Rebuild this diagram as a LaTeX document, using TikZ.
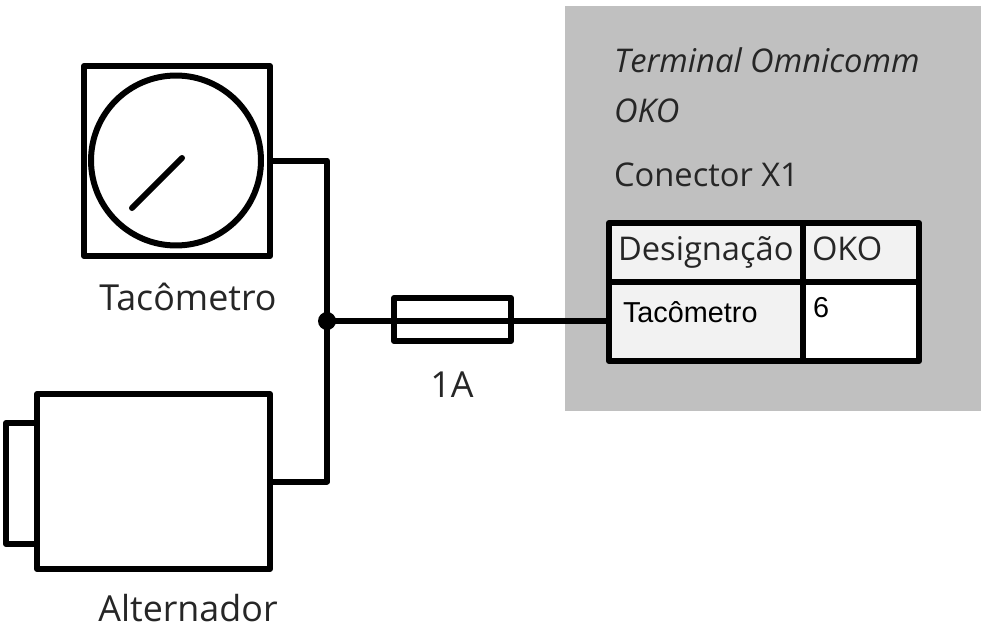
\documentclass[tikz,border=0pt]{standalone}
\usepackage{fontspec}
\setmainfont{Open Sans}
\newfontfamily\arialfont{Liberation Sans}
\usetikzlibrary{positioning}
\definecolor{panelgray}{HTML}{C0C0C0}
\definecolor{cellgray}{HTML}{F2F2F2}
\tikzset{
box/.style={draw=black, line width=0.12cm, line join=round, inner sep=0pt, outer sep=0pt},
wire/.style={black, line width=0.12cm, line join=round},
label/.style={inner sep=0pt, outer sep=0pt, font=\fontsize{20.4}{24}\selectfont, text=black!85},
panellabel/.style={label, anchor=base west, font=\fontsize{18.6}{22}\selectfont},
arial/.style={anchor=base west, inner sep=0pt, outer sep=0pt, text=black, font=\arialfont\fontsize{16.4}{20}\selectfont},
}

\begin{document}
\begin{tikzpicture}[x=0.02cm,y=-0.02cm]
\useasboundingbox (0,0) rectangle (987,632);

%panel
\fill[panelgray] (565,6) rectangle (981,411);

%table
\node[box, fill=cellgray, minimum width=3.88cm, minimum height=1.18cm] (desig) at (706,252.5) {};
\node[box, fill=cellgray, minimum width=2.32cm, minimum height=1.18cm] (oko) at (861,252.5) {};
\node[box, fill=cellgray, minimum width=3.88cm, minimum height=1.58cm] (tacho) at (706,321.5) {};
\node[box, fill=white, minimum width=2.32cm, minimum height=1.58cm] (six) at (861,321.5) {};

%tachometer
\node[box, fill=white, minimum width=3.72cm, minimum height=3.8cm] (tac) at (177,161) {};
\node[box, circle, fill=white, minimum size=3.4cm] (dial) at (176,160.5) {};
\coordinate (needleA) at (132,208);
\coordinate (needleB) at (182,158);
\draw[wire, line cap=round] (needleA)--(needleB);

%alternator
\node[box, fill=white, minimum width=0.62cm, minimum height=2.42cm] (shaft) at (21.5,483.5) {};
\node[box, fill=white, minimum width=4.66cm, minimum height=3.5cm] (alt) at (153.5,481.5) {};

%fuse and wires
\coordinate (junction) at (327,321);
\node[box, fill=none, minimum width=2.34cm, minimum height=0.86cm] (fuse) at (452.5,319.5) {};
\draw[wire] (tac.east|-dial.east)--(junction|-dial.east)--(junction);
\draw[wire] (alt.east)--(junction|-alt.east)--(junction);
\draw[wire] (junction)--(tacho.west|-junction);
\fill[black] (junction) circle (0.18cm);

%labels
\node[label, anchor=base] (lbtac) at (188,310) {Tacômetro};
\node[label, anchor=base] (lbalt) at (188,621) {Alternador};
\node[label, anchor=base] (lbfuse) at (452,397) {1A};
\node[panellabel] (lbterm) at (614,72) {\itshape Terminal Omnicomm};
\node[panellabel] (lboko) at (614,122) {\itshape OKO};
\node[panellabel] (lbcon) at (614,186) {Conector X1};
\node[panellabel] (lbdes) at (618,260) {Designação};
\node[panellabel] (lbokoh) at (812,260) {OKO};
\node[arial] (lbtach) at (623,322) {Tacômetro};
\node[arial] (lbsix) at (813,317) {6};

\end{tikzpicture}
\end{document}
